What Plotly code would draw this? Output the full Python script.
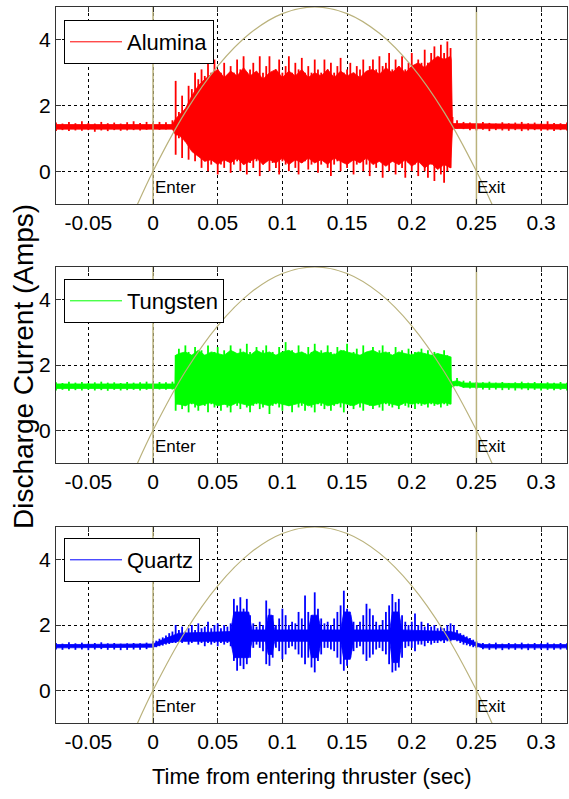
import plotly.graph_objects as go
from plotly.subplots import make_subplots

# ---------------- data ----------------
X_TICKS = [-0.05, 0, 0.05, 0.1, 0.15, 0.2, 0.25, 0.3]
X_TICK_TEXT = ["-0.05", "0", "0.05", "0.1", "0.15", "0.2", "0.25", "0.3"]
Y_TICKS = [0, 2, 4]
X_RANGE = [-0.075, 0.32]
Y_RANGE = [-1, 5]
ENTER_T = 0.0
EXIT_T = 0.25

# trajectory (olive curve)
traj_t = [-0.015, 0.0, 0.025, 0.05, 0.075, 0.1, 0.125, 0.15, 0.175, 0.2, 0.225, 0.25, 0.265]
traj_y = [-1.27, 0.0, 1.8, 3.2, 4.2, 4.8, 5.0, 4.8, 4.2, 3.2, 1.8, 0.0, -1.27]


def grid(start, step, n):
    return [round(start + step * k, 5) for k in range(n)]


# ---- Alumina: spike extremes (hi / lo) ----
alu_pre_t = grid(-0.075, 0.005, 19)            # -0.075 .. 0.015
alu_pre_hi = [1.48, 1.45, 1.50, 1.46, 1.52, 1.47, 1.45, 1.50, 1.46, 1.48,
              1.45, 1.49, 1.52, 1.47, 1.50, 1.48, 1.50, 1.49, 1.55]
alu_pre_lo = [1.22, 1.25, 1.22, 1.24, 1.23, 1.25, 1.20, 1.24, 1.22, 1.25,
              1.23, 1.24, 1.25, 1.24, 1.26, 1.25, 1.26, 1.27, 1.28]
alu_band_t = grid(0.0175, 0.0025, 86)          # 0.0175 .. 0.23
alu_band_hi = [2.75, 1.8, 2.3, 1.9, 2.6, 2.5, 3.0, 2.8, 3.1, 2.9,
               3.3, 3.0, 3.4, 3.1, 3.0, 3.3, 2.9, 3.2, 3.0, 3.4,
               3.1, 3.5, 3.0, 3.1, 3.3, 2.9, 3.5, 3.0, 3.2, 3.5,
               3.0, 3.1, 3.4, 3.0, 3.2, 3.5, 3.0, 3.3, 3.1, 3.45,
               3.0, 3.2, 3.0, 3.4, 3.1, 3.0, 3.4, 3.1, 3.3, 3.0,
               3.2, 3.45, 3.0, 3.1, 3.3, 3.0, 3.2, 3.1, 3.4, 3.0,
               3.2, 3.4, 3.1, 3.5, 3.2, 3.3, 3.6, 3.1, 3.4, 3.2,
               3.5, 3.1, 3.3, 3.6, 3.2, 3.4, 3.3, 3.7, 3.3, 3.6,
               3.8, 3.4, 3.85, 3.6, 3.95, 3.75]
alu_band_lo = [0.5, 1.0, 0.4, 0.9, 0.35, 0.7, 0.3, 0.5, 0.1, 0.3,
               0.0, 0.2, 0.3, -0.1, 0.2, 0.1, 0.3, -0.05, 0.2, 0.3,
               0.0, 0.2, -0.1, 0.25, 0.1, 0.3, -0.15, 0.2, 0.3, 0.0,
               0.25, 0.1, -0.1, 0.3, 0.2, 0.0, 0.3, 0.1, -0.1, 0.25,
               0.3, 0.05, 0.2, 0.3, -0.05, 0.2, 0.3, 0.1, -0.15, 0.2,
               0.3, 0.0, 0.25, 0.1, 0.3, -0.1, 0.2, 0.3, 0.0, 0.2,
               -0.15, 0.25, 0.1, 0.3, -0.2, 0.2, 0.0, 0.3, -0.1, 0.2,
               0.1, -0.2, 0.25, 0.0, 0.2, -0.15, 0.3, 0.0, -0.2, 0.2,
               -0.3, 0.1, -0.1, -0.35, 0.0, 0.1]
alu_post_t = [0.2315, 0.235] + grid(0.24, 0.005, 17)   # .. 0.32
alu_post_hi = [1.65, 1.55, 1.50, 1.48, 1.46, 1.50, 1.47, 1.45, 1.49, 1.46, 1.48,
               1.50, 1.46, 1.48, 1.45, 1.52, 1.47, 1.46, 1.48]
alu_post_lo = [1.25, 1.30, 1.28, 1.25, 1.24, 1.26, 1.22, 1.25, 1.24, 1.23, 1.25,
               1.22, 1.24, 1.25, 1.23, 1.24, 1.22, 1.25, 1.24]
# Alumina: solid body of the trace
alu_body_t = [-0.075, 0.015, 0.0175] + grid(0.02, 0.005, 43) + [0.2305, 0.2315, 0.32]
alu_body_hi = [1.42, 1.42, 1.6,
               1.7, 1.9, 2.3, 2.6, 2.8, 2.95, 3.1, 2.85, 3.05, 2.9,
               3.15, 2.9, 3.05, 2.8, 3.0, 3.1, 2.85, 3.05, 2.9, 3.1,
               2.85, 3.0, 2.9, 3.1, 2.85, 3.05, 2.9, 3.0, 2.85, 3.05,
               3.1, 2.95, 3.15, 3.0, 3.2, 3.0, 3.2, 3.3, 3.15, 3.35,
               3.5, 3.4, 3.5,
               3.4, 1.45, 1.42]
alu_body_lo = [1.28, 1.28, 1.1,
               1.1, 0.9, 0.6, 0.45, 0.3, 0.35, 0.2, 0.35, 0.25, 0.4,
               0.2, 0.3, 0.4, 0.2, 0.35, 0.25, 0.4, 0.2, 0.35, 0.25,
               0.4, 0.25, 0.35, 0.2, 0.4, 0.3, 0.2, 0.35, 0.25, 0.4,
               0.2, 0.3, 0.15, 0.3, 0.2, 0.35, 0.15, 0.3, 0.1, 0.25,
               0.05, 0.2, 0.1,
               0.2, 1.30, 1.28]

# ---- Tungsten ----
tun_pre_t = grid(-0.075, 0.005, 19)
tun_pre_hi = [1.47, 1.45, 1.49, 1.46, 1.48, 1.45, 1.47, 1.49, 1.46, 1.47,
              1.45, 1.48, 1.46, 1.47, 1.49, 1.46, 1.48, 1.47, 1.49]
tun_pre_lo = [1.22, 1.24, 1.21, 1.23, 1.22, 1.24, 1.22, 1.23, 1.21, 1.24,
              1.22, 1.23, 1.24, 1.22, 1.24, 1.23, 1.25, 1.24, 1.25]
tun_band_t = grid(0.0175, 0.0025, 86)
tun_band_hi = [2.3, 2.5, 2.35, 2.6, 2.4, 2.3, 2.55, 2.35, 2.45, 2.3,
               2.6, 2.35, 2.4, 2.55, 2.3, 2.45, 2.35, 2.6, 2.4, 2.3,
               2.5, 2.35, 2.65, 2.4, 2.3, 2.55, 2.35, 2.45, 2.6, 2.35,
               2.4, 2.3, 2.55, 2.4, 2.7, 2.35, 2.45, 2.3, 2.6, 2.4,
               2.35, 2.55, 2.4, 2.65, 2.35, 2.45, 2.3, 2.6, 2.4, 2.35,
               2.55, 2.3, 2.45, 2.65, 2.35, 2.4, 2.5, 2.3, 2.6, 2.4,
               2.35, 2.55, 2.3, 2.45, 2.6, 2.35, 2.4, 2.3, 2.55, 2.35,
               2.45, 2.3, 2.5, 2.35, 2.4, 2.3, 2.5, 2.35, 2.45, 2.3,
               2.4, 2.35, 2.3, 2.45, 2.3, 2.25]
tun_band_lo = [0.6, 0.8, 0.65, 0.75, 0.55, 0.8, 0.7, 0.6, 0.8, 0.75,
               0.55, 0.8, 0.7, 0.75, 0.6, 0.8, 0.7, 0.55, 0.8, 0.75,
               0.65, 0.8, 0.7, 0.55, 0.75, 0.8, 0.65, 0.7, 0.8, 0.5,
               0.75, 0.8, 0.7, 0.6, 0.8, 0.75, 0.55, 0.8, 0.7, 0.75,
               0.6, 0.8, 0.7, 0.55, 0.8, 0.75, 0.65, 0.8, 0.6, 0.75,
               0.8, 0.7, 0.55, 0.8, 0.75, 0.65, 0.8, 0.7, 0.6, 0.8,
               0.75, 0.65, 0.8, 0.7, 0.6, 0.8, 0.75, 0.7, 0.8, 0.65,
               0.8, 0.75, 0.7, 0.8, 0.65, 0.8, 0.75, 0.8, 0.7, 0.8,
               0.75, 0.8, 0.7, 0.8, 0.75, 0.8]
tun_post_t = [0.2305, 0.235] + grid(0.24, 0.005, 17)
tun_post_hi = [1.55, 1.60, 1.52, 1.50, 1.48, 1.47, 1.49, 1.46, 1.48, 1.45, 1.47,
               1.49, 1.46, 1.48, 1.45, 1.47, 1.46, 1.48, 1.46]
tun_post_lo = [1.30, 1.35, 1.30, 1.28, 1.26, 1.25, 1.24, 1.25, 1.23, 1.24, 1.22,
               1.25, 1.23, 1.24, 1.22, 1.24, 1.23, 1.24, 1.22]
tun_body_t = [-0.075, 0.017, 0.0175] + grid(0.02, 0.005, 43) + [0.2305, 0.235, 0.24, 0.32]
tun_body_hi = [1.42, 1.42, 2.3,
               2.35, 2.4, 2.3, 2.45, 2.3, 2.4, 2.35, 2.3, 2.45, 2.35,
               2.4, 2.3, 2.45, 2.35, 2.4, 2.3, 2.4, 2.45, 2.35, 2.4,
               2.3, 2.45, 2.35, 2.4, 2.3, 2.45, 2.4, 2.35, 2.3, 2.4,
               2.45, 2.35, 2.4, 2.3, 2.4, 2.35, 2.3, 2.4, 2.35, 2.3,
               2.35, 2.3, 2.25,
               1.48, 1.52, 1.45, 1.42]
tun_body_lo = [1.28, 1.28, 0.8,
               0.8, 0.75, 0.85, 0.75, 0.8, 0.85, 0.75, 0.8, 0.75, 0.85,
               0.8, 0.75, 0.85, 0.8, 0.75, 0.85, 0.8, 0.75, 0.8, 0.85,
               0.75, 0.8, 0.85, 0.75, 0.8, 0.85, 0.8, 0.75, 0.85, 0.8,
               0.75, 0.8, 0.85, 0.8, 0.75, 0.85, 0.8, 0.85, 0.8, 0.85,
               0.8, 0.85, 0.8,
               1.33, 1.38, 1.32, 1.28]

# ---- Quartz ----
qua_pre_t = grid(-0.075, 0.005, 15)            # -0.075 .. -0.005
qua_pre_hi = [1.45, 1.43, 1.47, 1.44, 1.46, 1.43, 1.45, 1.47, 1.44, 1.45,
              1.43, 1.44, 1.45, 1.44, 1.46]
qua_pre_lo = [1.25, 1.24, 1.26, 1.24, 1.25, 1.23, 1.25, 1.26, 1.24, 1.25,
              1.23, 1.24, 1.25, 1.24, 1.26]
qua_band_t = grid(0.0, 0.0025, 101)            # 0 .. 0.25
qua_band_hi = [1.50, 1.52, 1.58, 1.62, 1.68, 1.75, 1.80, 2.0, 1.85, 1.95,
               1.8, 1.9, 2.0, 1.85, 2.05, 1.9, 1.95, 2.1, 1.9, 2.0,
               2.05, 1.9, 2.0, 1.95, 2.05, 2.8, 2.6, 2.85, 2.5, 2.8,
               2.3, 2.05, 1.95, 2.1, 2.0, 2.75, 2.5, 2.3, 2.0, 2.2,
               2.5, 2.3, 2.0, 2.1, 2.05, 2.4, 2.2, 2.9, 2.4, 2.3,
               3.0, 2.5, 2.2, 2.05, 2.1, 2.0, 2.2, 2.4, 2.6, 3.05,
               2.5, 2.3, 2.1, 2.0, 2.1, 2.3, 2.65, 2.5, 2.3, 2.1,
               2.0, 2.15, 2.4, 2.6, 2.95, 2.7, 2.8, 2.3, 2.1, 2.0,
               2.1, 2.35, 2.0, 2.1, 1.95, 2.05, 1.95, 2.0, 1.9, 1.95,
               1.9, 2.0, 2.05, 2.0, 1.85, 1.75, 1.7, 1.65, 1.6, 1.55,
               1.5]
qua_band_lo = [1.30, 1.32, 1.35, 1.37, 1.40, 1.42, 1.45, 1.45, 1.5, 1.45,
               1.5, 1.4, 1.45, 1.5, 1.4, 1.45, 1.35, 1.45, 1.4, 1.45,
               1.35, 1.45, 1.4, 1.45, 1.35, 0.9, 0.6, 0.75, 0.65, 0.8,
               1.0, 1.3, 1.4, 1.3, 1.2, 0.8, 0.75, 1.0, 1.3, 1.2,
               0.95, 1.1, 1.3, 1.35, 1.25, 1.1, 1.0, 0.8, 1.0, 0.7,
               0.55, 0.9, 1.1, 1.3, 1.3, 1.25, 1.2, 1.0, 0.8, 0.6,
               0.75, 1.0, 1.2, 1.3, 1.35, 1.1, 0.9, 1.0, 1.1, 1.25,
               1.3, 1.2, 1.1, 0.8, 0.55, 0.6, 0.7, 1.0, 1.3, 1.35,
               1.3, 1.2, 1.4, 1.4, 1.35, 1.45, 1.4, 1.45, 1.45, 1.5,
               1.45, 1.5, 1.5, 1.55, 1.5, 1.45, 1.4, 1.38, 1.35, 1.32,
               1.3]
qua_post_t = grid(0.255, 0.005, 14)            # 0.255 .. 0.32
qua_post_hi = [1.45, 1.44, 1.46, 1.43, 1.45, 1.44, 1.46, 1.43, 1.45, 1.44,
               1.46, 1.43, 1.45, 1.44]
qua_post_lo = [1.26, 1.24, 1.25, 1.23, 1.25, 1.24, 1.25, 1.23, 1.24, 1.25,
               1.23, 1.24, 1.25, 1.24]
qua_body_t = [-0.075, 0.0, 0.01, 0.02, 0.06, 0.0625, 0.074, 0.0765, 0.087, 0.089,
              0.092, 0.094, 0.12, 0.1225, 0.1275, 0.13, 0.145, 0.1475, 0.1525, 0.155,
              0.183, 0.185, 0.19, 0.1925, 0.23, 0.235, 0.25, 0.255, 0.32]
qua_body_hi = [1.40, 1.42, 1.6, 1.75, 1.8, 2.4, 2.4, 1.85, 1.85, 2.3,
               2.3, 1.85, 1.85, 2.3, 2.3, 1.85, 1.85, 2.4, 2.4, 1.85,
               1.85, 2.4, 2.4, 1.85, 1.8, 1.75, 1.45, 1.40, 1.40]
qua_body_lo = [1.30, 1.32, 1.45, 1.5, 1.5, 1.0, 1.0, 1.5, 1.5, 1.1,
               1.1, 1.5, 1.5, 1.0, 1.0, 1.5, 1.5, 0.95, 0.95, 1.5,
               1.5, 0.85, 0.85, 1.5, 1.55, 1.55, 1.35, 1.30, 1.30]

SERIES = [
    ("Alumina", "#ff0000",
     alu_pre_t + alu_band_t + alu_post_t,
     alu_pre_hi + alu_band_hi + alu_post_hi,
     alu_pre_lo + alu_band_lo + alu_post_lo,
     alu_body_t, alu_body_hi, alu_body_lo),
    ("Tungsten", "#00ff00",
     tun_pre_t + tun_band_t + tun_post_t,
     tun_pre_hi + tun_band_hi + tun_post_hi,
     tun_pre_lo + tun_band_lo + tun_post_lo,
     tun_body_t, tun_body_hi, tun_body_lo),
    ("Quartz", "#0000ff",
     qua_pre_t + qua_band_t + qua_post_t,
     qua_pre_hi + qua_band_hi + qua_post_hi,
     qua_pre_lo + qua_band_lo + qua_post_lo,
     qua_body_t, qua_body_hi, qua_body_lo),
]

OLIVE = "#bab27c"
FONT = "Liberation Sans, Arial, sans-serif"

W, H = 569, 799
ML, MR, MT, MB = 56, 2, 7, 76
panel_px = [(7, 204), (267, 463), (527, 723)]  # (top, bottom) in pixels
plot_h = H - MT - MB


def ypaper(py):
    return (H - MB - py) / plot_h


fig = make_subplots(rows=3, cols=1)
legend_tops = [20, 279, 538]
legend_names = ["legend", "legend2", "legend3"]

for i, (name, color, t, hi, lo, bt, bhi, blo) in enumerate(SERIES):
    r = i + 1
    # solid body of the signal
    fig.add_trace(go.Scatter(
        x=list(bt) + list(bt)[::-1], y=list(bhi) + list(blo)[::-1],
        fill="toself", fillcolor=color, mode="lines",
        line=dict(color=color, width=0.8), showlegend=False, hoverinfo="skip"),
        row=r, col=1)
    # spikes (sample extremes)
    cx, cy = [], []
    for tk, hk, lk in zip(t, hi, lo):
        cx += [tk, tk, None]
        cy += [lk, hk, None]
    fig.add_trace(go.Scatter(
        x=cx, y=cy, mode="lines", line=dict(color=color, width=1.8),
        showlegend=False, hoverinfo="skip", connectgaps=False), row=r, col=1)
    fig.add_trace(go.Scatter(
        x=traj_t, y=traj_y, mode="lines", line=dict(color=OLIVE, width=1.2, shape="spline"),
        showlegend=False, hoverinfo="skip"), row=r, col=1)
    for tt in (ENTER_T, EXIT_T):
        fig.add_trace(go.Scatter(
            x=[tt, tt], y=Y_RANGE, mode="lines", line=dict(color=OLIVE, width=1.5),
            showlegend=False, hoverinfo="skip"), row=r, col=1)
    fig.add_trace(go.Scatter(
        x=[None], y=[None], mode="lines", name=name,
        line=dict(color=color, width=1), legend=legend_names[i]), row=r, col=1)

    axn = "" if r == 1 else str(r)
    common = dict(showgrid=True, gridcolor="#000000", griddash="dot", gridwidth=1,
                  showline=True, linecolor="#333333", linewidth=1.2, mirror="ticks",
                  ticks="inside", ticklen=5, tickcolor="#333333",
                  tickfont=dict(family=FONT, size=21, color="#000000"), zeroline=False)
    fig.update_xaxes(row=r, col=1, range=X_RANGE, tickvals=X_TICKS, ticktext=X_TICK_TEXT, **common)
    fig.update_yaxes(row=r, col=1, range=Y_RANGE, tickvals=Y_TICKS, **common)
    top, bot = panel_px[i]
    fig.layout["yaxis" + axn].domain = [ypaper(bot), ypaper(top)]
    fig.layout["xaxis" + axn].domain = [0, 1]

    fig.add_annotation(x=ENTER_T, y=-0.5, xref="x" + axn, yref="y" + axn, text="Enter",
                       showarrow=False, xanchor="left", yanchor="middle", xshift=0,
                       font=dict(family=FONT, size=17, color="#000000"))
    fig.add_annotation(x=EXIT_T, y=-0.5, xref="x" + axn, yref="y" + axn, text="Exit",
                       showarrow=False, xanchor="left", yanchor="middle", xshift=-1,
                       font=dict(family=FONT, size=17, color="#000000"))

    fig.layout[legend_names[i]] = dict(
        x=(64 - ML) / (W - ML - MR), y=ypaper(legend_tops[i]), xanchor="left", yanchor="top",
        bgcolor="#ffffff", bordercolor="#000000", borderwidth=1, itemwidth=52,
        font=dict(family=FONT, size=22, color="#000000"))

fig.add_annotation(x=(23 - ML) / (W - ML - MR), y=ypaper(367), xref="paper", yref="paper",
                   text="Discharge Current (Amps)", textangle=-90, showarrow=False,
                   xanchor="center", yanchor="middle",
                   font=dict(family=FONT, size=28, color="#000000"))
fig.add_annotation(x=0.5, y=ypaper(776), xref="paper", yref="paper",
                   text="Time from entering thruster (sec)", showarrow=False,
                   xanchor="center", yanchor="middle",
                   font=dict(family=FONT, size=22, color="#000000"))

fig.update_layout(width=W, height=H, margin=dict(l=ML, r=MR, t=MT, b=MB),
                  paper_bgcolor="#ffffff", plot_bgcolor="#ffffff")

fig.write_html("out.html")
